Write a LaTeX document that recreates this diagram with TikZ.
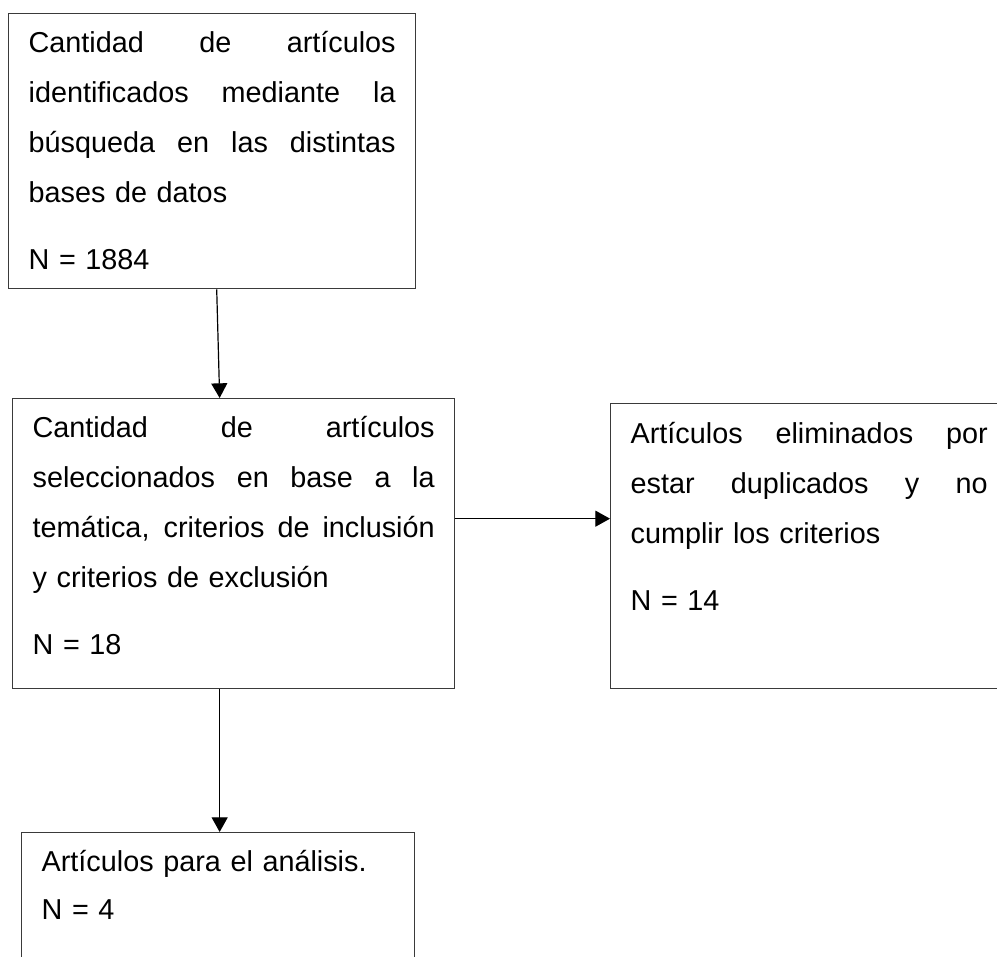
\documentclass[tikz,border=0pt]{standalone}
\usepackage{fontspec}
\setmainfont{Liberation Sans}
\usetikzlibrary{arrows.meta}
\definecolor{Border}{HTML}{3A3A3A}
\newcommand{\jline}[1]{\makebox[\hsize][s]{\spaceskip=0pt\xspaceskip=0pt #1}}
\newcommand{\topgap}[1]{\rule{0pt}{#1}}
\newcommand{\botgap}[1]{\rule[-#1]{0pt}{#1}}
\tikzset{
  box/.style={draw=Border, line width=1pt, anchor=north west, align=left,
    inner xsep=15pt, inner ysep=0pt, font=\fontsize{21.6pt}{37.5pt}\selectfont},
  arr/.style={-{Triangle[length=11pt,width=12pt]}, line width=0.9pt},
}

\begin{document}
\begin{tikzpicture}[x=0.75pt,y=-0.75pt]
\useasboundingbox (0,0) rectangle (997,957);
\clip (0,0) rectangle (997,957);
\fill[white] (0,0) rectangle (997,957);
% boxes listed top to bottom, left to right
\node[box, text width=275.25pt] (ident) at (8,13) {\topgap{29.25pt}\jline{Cantidad de artículos}\\
  \jline{identificados mediante la}\\
  \jline{búsqueda en las distintas}\\
  bases de datos\\[12.75pt]
  N = 1884\botgap{14.25pt}};
\node[box, text width=301.5pt] (selec) at (12,398) {\topgap{29.25pt}\jline{Cantidad de artículos}\\
  \jline{seleccionados en base a la}\\
  \jline{temática, criterios de inclusión}\\
  y criterios de exclusión\\[12.75pt]
  N = 18\botgap{25.5pt}};
\node[box, text width=267.75pt] (elim) at (610,403) {\topgap{30pt}\jline{Artículos eliminados por}\\
  \jline{estar duplicados y no}\\
  cumplir los criterios\\[12.75pt]
  N = 14\botgap{58.5pt}};
\node[box, text width=264.75pt] (anal) at (21,832) {\topgap{29.25pt}Artículos para el análisis.\\[-1.5pt]
  N = 4\botgap{45pt}};
% connectors
\draw[arr] ([xshift=3.4pt]ident.south) -- ([xshift=-10.5pt]selec.north);
\draw[arr] ([yshift=18.75pt]selec.east) -- ([yshift=18.75pt]selec.east -| elim.west);
\draw[arr] ([xshift=-10.5pt]selec.south) -- ([xshift=-10.5pt]selec.south |- anal.north);
\end{tikzpicture}
\end{document}
